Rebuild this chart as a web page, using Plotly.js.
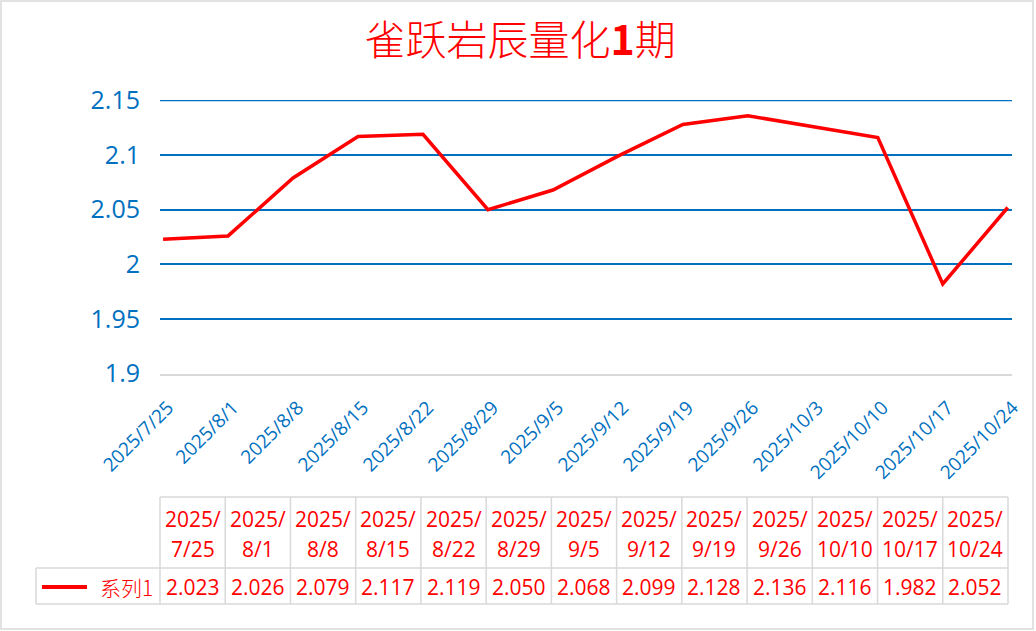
<!DOCTYPE html>
<html>
<head>
<meta charset="utf-8">
<script src="https://cdn.plot.ly/plotly-3.0.1.min.js"></script>
<style>
  html, body { margin: 0; padding: 0; background: #ffffff; }
  #chart { width: 1036px; height: 631px; }
</style>
</head>
<body>
<div id="chart"></div>
<script>
// ---- data ----
var chartTitle = "雀跃岩辰量化<b>1</b>期";
var seriesName = "系列1";
var dates = ["2025-07-25","2025-08-01","2025-08-08","2025-08-15","2025-08-22","2025-08-29","2025-09-05","2025-09-12","2025-09-19","2025-09-26","2025-10-10","2025-10-17","2025-10-24"];
var values = [2.023, 2.026, 2.079, 2.117, 2.119, 2.050, 2.068, 2.099, 2.128, 2.136, 2.116, 1.982, 2.052];
var tableLabels = ["2025/7/25","2025/8/1","2025/8/8","2025/8/15","2025/8/22","2025/8/29","2025/9/5","2025/9/12","2025/9/19","2025/9/26","2025/10/10","2025/10/17","2025/10/24"];
var axisDates = ["2025-07-25","2025-08-01","2025-08-08","2025-08-15","2025-08-22","2025-08-29","2025-09-05","2025-09-12","2025-09-19","2025-09-26","2025-10-03","2025-10-10","2025-10-17","2025-10-24"];
var axisLabels = ["2025/7/25","2025/8/1","2025/8/8","2025/8/15","2025/8/22","2025/8/29","2025/9/5","2025/9/12","2025/9/19","2025/9/26","2025/10/3","2025/10/10","2025/10/17","2025/10/24"];
var yTicks = [1.9, 1.95, 2, 2.05, 2.1, 2.15];
var yTickLabels = ["1.9", "1.95", "2", "2.05", "2.1", "2.15"];

// ---- style ----
var BLUE = "#0070C0", RED = "#FF0000", GRAY = "#D9D9D9";
var FONT = "'Open Sans', 'Noto Sans', sans-serif";
var CJK = "'Noto Sans CJK SC', 'Open Sans', sans-serif";

// plot area in pixels
var PL = 160, PR = 1012, PT = 100, PB = 374;
function X(px) { return (px - PL) / (PR - PL); }
function Y(py) { return (PB - py) / (PB - PT); }

var shapes = [], annotations = [];

// outer chart border
shapes.push({type: "rect", xref: "paper", yref: "paper", x0: X(1), x1: X(1033), y0: Y(1), y1: Y(629),
  line: {color: GRAY, width: 1.5}, layer: "below"});

// top gridline (plotly omits the grid line at the plot edge)
var yTop = yTicks[yTicks.length - 1];
shapes.push({type: "line", xref: "paper", yref: "y", x0: 0, x1: 1, y0: yTop, y1: yTop,
  line: {color: BLUE, width: 1.75}, layer: "below"});

// data table
var tL = 160, tR = 1008, tTop = 497, tMid = 568, tBot = 604, legL = 36;
var colW = (tR - tL) / dates.length;
function hline(x0, x1, y) {
  shapes.push({type: "line", xref: "paper", yref: "paper", x0: X(x0), x1: X(x1), y0: Y(y), y1: Y(y), line: {color: GRAY, width: 1.5}});
}
function vline(x, y0, y1) {
  shapes.push({type: "line", xref: "paper", yref: "paper", x0: X(x), x1: X(x), y0: Y(y0), y1: Y(y1), line: {color: GRAY, width: 1.5}});
}
hline(tL, tR, tTop);
hline(legL, tR, tMid);
hline(legL, tR, tBot);
vline(legL, tMid, tBot);
for (var i = 0; i <= dates.length; i++) vline(tL + i * colW, tTop, tBot);

for (var j = 0; j < tableLabels.length; j++) {
  var cx = tL + (j + 0.5) * colW;
  var k = tableLabels[j].indexOf("/");
  var l1 = tableLabels[j].slice(0, k + 1), l2 = tableLabels[j].slice(k + 1);
  annotations.push({xref: "paper", yref: "paper", x: X(cx), y: Y(518.5), text: l1, showarrow: false,
    xanchor: "center", yanchor: "middle", font: {family: FONT, size: 21, color: RED}});
  annotations.push({xref: "paper", yref: "paper", x: X(cx), y: Y(549), text: l2, showarrow: false,
    xanchor: "center", yanchor: "middle", font: {family: FONT, size: 21, color: RED}});
  annotations.push({xref: "paper", yref: "paper", x: X(cx), y: Y(587), text: values[j].toFixed(3), showarrow: false,
    xanchor: "center", yanchor: "middle", font: {family: FONT, size: 21, color: RED}});
}
// legend key in table
shapes.push({type: "line", xref: "paper", yref: "paper", x0: X(42), x1: X(87), y0: Y(587), y1: Y(587),
  line: {color: RED, width: 4}});
annotations.push({xref: "paper", yref: "paper", x: X(155), y: Y(587), text: seriesName, showarrow: false,
  xanchor: "right", yanchor: "middle", font: {family: CJK, size: 21, color: RED, weight: 300}});

var trace = {
  x: dates, y: values, type: "scatter", mode: "lines", name: seriesName,
  line: {color: RED, width: 3.5}, hoverinfo: "x+y"
};

var layout = {
  width: 1036, height: 631,
  margin: {l: PL, r: 1036 - PR, t: PT, b: 631 - PB, pad: 0},
  paper_bgcolor: "#ffffff", plot_bgcolor: "#ffffff",
  showlegend: false,
  title: {text: chartTitle, font: {family: CJK, size: 41, color: RED, weight: 300},
    xref: "container", yref: "container", x: 0.502, y: 1 - 41 / 631, xanchor: "center", yanchor: "middle"},
  xaxis: {
    type: "date", range: ["2025-07-24 16:00", "2025-10-24 11:00"],
    tickmode: "array", tickvals: axisDates, ticktext: axisLabels,
    tickangle: -45, tickfont: {family: FONT, size: 19, color: BLUE},
    ticks: "outside", ticklen: 13, tickcolor: "rgba(0,0,0,0)",
    ticklabelshift: 5,
    showgrid: false, zeroline: false,
    showline: true, linecolor: GRAY, linewidth: 2
  },
  yaxis: {
    range: [1.8996, 2.1504], tickmode: "array", tickvals: yTicks, ticktext: yTickLabels,
    tickfont: {family: FONT, size: 25, color: BLUE},
    ticks: "outside", ticklen: 14, tickcolor: "rgba(0,0,0,0)",
    showgrid: true, gridcolor: BLUE, gridwidth: 1.75,
    zeroline: false, showline: false
  },
  shapes: shapes,
  annotations: annotations
};

Plotly.newPlot("chart", [trace], layout, {displayModeBar: false, staticPlot: true});
</script>
</body>
</html>
